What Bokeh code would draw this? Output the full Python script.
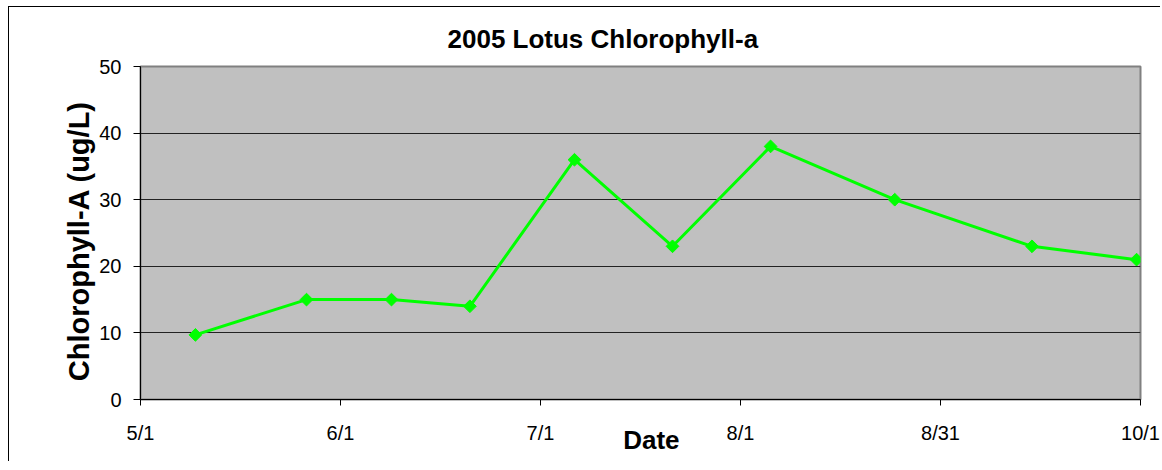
import math
import pandas as pd
from bokeh.plotting import figure
from bokeh.models import FixedTicker, ColumnDataSource, Range1d
from bokeh.embed import file_html
from bokeh.resources import INLINE

# ---- data ----
sample_dates = ["2005-05-09", "2005-05-26", "2005-06-08", "2005-06-20", "2005-07-06",
                "2005-07-21", "2005-08-05", "2005-08-24", "2005-09-14", "2005-09-30"]
chlorophyll = [9.7, 15.0, 15.0, 14.0, 36.0, 23.0, 38.0, 30.0, 23.0, 21.0]
x_tick_labels = ["5/1", "6/1", "7/1", "8/1", "8/31", "10/1"]
y_ticks = [0, 10, 20, 30, 40, 50]

start = pd.Timestamp("2005-05-01")
end = pd.Timestamp("2005-10-01")
span_days = (end - start).days
days = [(pd.Timestamp(d) - start).days + 0.4 for d in sample_dates]
x_ticks = [round(i * span_days / 5, 4) for i in range(6)]

FONT = "Liberation Sans"
NB = "\u00a0"

p = figure(width=1152, height=455, output_backend="svg", toolbar_location=None,
           x_range=Range1d(0, span_days), y_range=Range1d(0, 50),
           min_border_left=131, min_border_right=21, min_border_top=59, min_border_bottom=63)
p.styles = {"border-left": "1px solid black", "border-top": "1px solid black",
            "border-right": "none", "border-bottom": "none",
            "margin-left": "8px", "margin-top": "6px", "box-shadow": "none",
            "outline": "none"}

# title (centred on the whole chart area, i.e. left of the plot centre)
p.title.text = "2005 Lotus Chlorophyll-a"
p.title.text_font = FONT
p.title.text_font_size = "26px"
p.title.text_font_style = "bold"
p.title.text_color = "black"
p.title.align = "left"
p.title.offset = 307
p.title.standoff = 25

p.background_fill_color = "#C0C0C0"
p.border_fill_color = "white"
p.outline_line_color = "#808080"
p.outline_line_width = 2

# grid
p.xgrid.visible = False
p.ygrid.grid_line_color = "#222222"
p.ygrid.grid_line_width = 1

# x axis
p.xaxis.ticker = FixedTicker(ticks=x_ticks)
p.xaxis.major_label_overrides = {t: lab for t, lab in zip(x_ticks, x_tick_labels)}
p.xaxis.major_label_text_font = FONT
p.xaxis.major_label_text_font_size = "20px"
p.xaxis.major_label_text_color = "black"
p.xaxis.major_label_standoff = 16
p.xaxis.major_tick_in = 0
p.xaxis.major_tick_out = 6
p.xaxis.minor_tick_line_color = None
p.xaxis.axis_line_color = "black"
p.xaxis.major_tick_line_color = "black"
p.xaxis.axis_label = NB * 3 + "Date"
p.xaxis.axis_label_text_font = FONT
p.xaxis.axis_label_text_font_size = "26px"
p.xaxis.axis_label_text_font_style = "bold"
p.xaxis.axis_label_text_color = "black"
p.xaxis.axis_label_standoff = -22

# y axis
p.yaxis.ticker = FixedTicker(ticks=y_ticks)
p.yaxis.major_label_text_font = FONT
p.yaxis.major_label_text_font_size = "20px"
p.yaxis.major_label_text_color = "black"
p.yaxis.major_label_standoff = 12
p.yaxis.major_tick_in = 0
p.yaxis.major_tick_out = 7
p.yaxis.minor_tick_line_color = None
p.yaxis.axis_line_color = "black"
p.yaxis.major_tick_line_color = "black"
p.yaxis.axis_label = "Chlorophyll-A (ug/L)" + NB * 2
p.yaxis.axis_label_text_font = FONT
p.yaxis.axis_label_text_font_size = "29px"
p.yaxis.axis_label_text_font_style = "bold"
p.yaxis.axis_label_text_color = "black"
p.yaxis.axis_label_standoff = 1

src = ColumnDataSource(dict(x=days, y=chlorophyll))
p.line("x", "y", source=src, line_color="#00FF00", line_width=3)
p.scatter("x", "y", source=src, marker="square", angle=math.pi / 4, size=9,
          fill_color="#00FF00", line_color="#00FF00")

open("out.html", "w").write(file_html(p, INLINE))
